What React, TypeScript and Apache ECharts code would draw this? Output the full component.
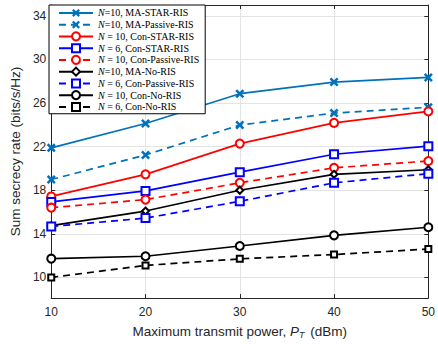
import React, { useEffect, useRef } from "react";
import * as echarts from "echarts";

const powers = [10, 20, 30, 40, 50];
const yTicks = [10, 14, 18, 22, 26, 30, 34];

const names = [
  "N=10, MA-STAR-RIS",
  "N=10, MA-Passive-RIS",
  "N = 10, Con-STAR-RIS",
  "N = 6, Con-STAR-RIS",
  "N = 10, Con-Passive-RIS",
  "N=10, MA-No-RIS",
  "N = 6, Con-Passive-RIS",
  "N = 10, Con-No-RIS",
  "N = 6, Con-No-RIS",
];

const maStar10 = [21.89, 24.12, 26.86, 27.93, 28.35];
const maPassive10 = [18.98, 21.24, 23.98, 25.08, 25.61];
const conStar10 = [17.43, 19.46, 22.28, 24.18, 25.23];
const conStar6 = [16.93, 17.94, 19.66, 21.3, 22.04];
const conPassive10 = [16.4, 17.14, 18.68, 20.06, 20.68];
const maNoRis10 = [14.75, 16.09, 18.0, 19.46, 19.88];
const conPassive6 = [14.67, 15.44, 16.98, 18.68, 19.52];
const conNoRis10 = [11.72, 11.94, 12.88, 13.86, 14.6];
const conNoRis6 = [10.0, 11.1, 11.7, 12.1, 12.6];

const X_PATH =
  "path://M0,2L2,0L5,3L8,0L10,2L7,5L10,8L8,10L5,7L2,10L0,8L3,5Z";

const MA_BLUE = "#0072BD";
const RED = "#FF0000";
const BLUE = "#0000FF";
const BLACK = "#000000";
const DASH = [7, 5];

export default function App() {
  const ref = useRef<HTMLDivElement>(null);
  useEffect(() => {
    if (!ref.current) return;
    const chart = echarts.init(ref.current, undefined, { renderer: "svg" });

    const mk = (
      name: string,
      values: number[],
      color: string,
      dashed: boolean,
      symbol: string,
      symbolSize: number,
      fill?: string
    ) => ({
      name,
      type: "line",
      data: powers.map((p, i) => [p, values[i]]),
      symbol,
      symbolSize,
      showSymbol: true,
      lineStyle: { color, width: 1.7, type: dashed ? DASH : "solid" },
      itemStyle: {
        color: fill ?? color,
        borderColor: color,
        borderWidth: symbol.startsWith("path") ? 0 : 1.6,
      },
      emphasis: { disabled: true },
      z: 3,
    });

    const series = [
      mk(names[0], maStar10, MA_BLUE, false, X_PATH, 9),
      mk(names[1], maPassive10, MA_BLUE, true, X_PATH, 9),
      mk(names[2], conStar10, RED, false, "emptyCircle", 8),
      mk(names[3], conStar6, BLUE, false, "emptyRect", 8),
      mk(names[4], conPassive10, RED, true, "emptyCircle", 8),
      mk(names[5], maNoRis10, BLACK, false, "emptyDiamond", 7),
      mk(names[6], conPassive6, BLUE, true, "emptyRect", 8),
      mk(names[7], conNoRis10, BLACK, false, "emptyCircle", 8),
      mk(names[8], conNoRis6, BLACK, true, "emptyRect", 6),
    ];

    const axisColor = "#262626";
    const gridColor = "#e3e3e3";
    const tickFont = { fontFamily: "Liberation Sans", fontSize: 12, color: axisColor };

    chart.setOption({
      animation: false,
      backgroundColor: "#ffffff",
      grid: { left: 49, right: 7, top: 5, bottom: 38, containLabel: false },
      legend: {
        orient: "vertical",
        left: 49,
        top: 5,
        padding: [2, 6, 1, 9],
        itemGap: 0,
        itemWidth: 34,
        itemHeight: 10,
        backgroundColor: "#ffffff",
        borderColor: "#000000",
        borderWidth: 1,
        borderRadius: 0,
        selectedMode: false,
        data: names,
        formatter: (name: string) => `{i|N}{t|${name.slice(1)}}`,
        textStyle: {
          fontFamily: "Liberation Serif",
          fontSize: 10,
          color: "#000",
          lineHeight: 11.75,
          rich: {
            i: { fontStyle: "italic", fontFamily: "Liberation Serif", fontSize: 10, lineHeight: 11.75 },
            t: { fontFamily: "Liberation Serif", fontSize: 10, lineHeight: 11.75 },
          },
        },
        z: 10,
      },
      xAxis: [
        {
          type: "value",
          min: 10,
          max: 50,
          interval: 10,
          position: "bottom",
          name: "Maximum transmit power, {i|P}{sub|T} (dBm)",
          nameLocation: "middle",
          nameGap: 14,
          nameTextStyle: {
            fontFamily: "Liberation Sans",
            fontSize: 13.5,
            color: axisColor,
            lineHeight: 16,
            rich: {
              i: { fontStyle: "italic", fontFamily: "Liberation Sans", fontSize: 13.5, lineHeight: 16 },
              sub: {
                fontStyle: "italic",
                fontFamily: "Liberation Sans",
                fontSize: 9,
                lineHeight: 16,
                verticalAlign: "bottom",
                padding: [7, 2, 0, 0],
              },
            },
          },
          axisLine: { show: true, lineStyle: { color: axisColor, width: 1 } },
          axisTick: { show: true, inside: true, length: 4, lineStyle: { color: axisColor } },
          axisLabel: { ...tickFont, margin: 8 },
          splitLine: { show: true, lineStyle: { color: gridColor, width: 1 } },
        },
        {
          type: "value",
          min: 10,
          max: 50,
          interval: 10,
          position: "top",
          axisLine: { show: true, lineStyle: { color: axisColor, width: 1 } },
          axisTick: { show: true, inside: true, length: 4, lineStyle: { color: axisColor } },
          axisLabel: { show: false },
          splitLine: { show: false },
        },
      ],
      yAxis: [
        {
          type: "value",
          min: 8.1,
          max: 35,
          position: "left",
          name: "Sum secrecy rate (bits/s/Hz)",
          nameLocation: "middle",
          nameGap: 21,
          nameTextStyle: { fontFamily: "Liberation Sans", fontSize: 13.5, color: axisColor },
          axisLine: { show: true, lineStyle: { color: axisColor, width: 1 } },
          axisTick: {
            show: true,
            inside: true,
            length: 4,
            customValues: yTicks,
            lineStyle: { color: axisColor },
          },
          axisLabel: { ...tickFont, margin: 5, customValues: yTicks },
          splitLine: { show: true, lineStyle: { color: gridColor, width: 1 } },
        },
        {
          type: "value",
          min: 8.1,
          max: 35,
          position: "right",
          axisLine: { show: true, lineStyle: { color: axisColor, width: 1 } },
          axisTick: {
            show: true,
            inside: true,
            length: 4,
            customValues: yTicks,
            lineStyle: { color: axisColor },
          },
          axisLabel: { show: false, customValues: yTicks },
          splitLine: { show: false },
        },
      ],
      series,
    });
    return () => chart.dispose();
  }, []);

  return (
    <div
      ref={ref}
      style={{ position: "absolute", left: 0, top: 0, width: 438, height: 344 }}
    />
  );
}
